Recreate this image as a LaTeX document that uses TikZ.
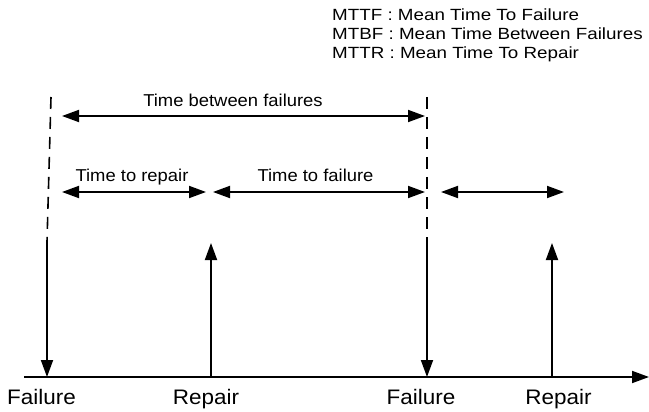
\documentclass[tikz,border=0pt]{standalone}
\usepackage{fontspec}
\setmainfont[FakeStretch=1.07]{Liberation Sans}
\newfontfamily\legendfont[FakeStretch=1.16]{Liberation Sans}
\usetikzlibrary{arrows.meta}
\begin{document}
\begin{tikzpicture}[x=1pt,y=-1pt,
  tip/.style={-{Triangle[length=17pt,width=12pt]}},
  span/.style={{Triangle[length=17pt,width=12pt]}-{Triangle[length=17pt,width=12pt]}, line width=1.8pt},
  event/.style={line width=1.8pt},
  guide/.style={line width=1.6pt, dash pattern=on 12pt off 8pt},
  evlabel/.style={anchor=base, inner sep=0pt, font=\fontsize{21}{25}\selectfont},
  spanlabel/.style={anchor=base, inner sep=0pt, font=\fontsize{17.2}{21}\selectfont},
  legend/.style={anchor=base west, inner sep=0pt, font=\legendfont\fontsize{16.2}{19}\selectfont}]
\useasboundingbox (0,0) rectangle (649,412);

% time axis
\coordinate (ax0) at (24,377);
\coordinate (ax1) at (649,377);
\draw[line width=1.8pt, -{Triangle[length=17pt,width=12pt]}] (ax0) -- (ax1);

% events on the axis
\coordinate (f1) at (47,377);
\coordinate (r1) at (211,377);
\coordinate (f2) at (427,377);
\coordinate (r2) at (552,377);

% failure markers: dashed guide above, downward arrow below
\coordinate (f1top) at (51,97);
\coordinate (f1mid) at (47,242);
\coordinate (f2top) at (427,97);
\coordinate (f2mid) at (427,242);
\draw[guide] (f1top) -- (f1mid);
\draw[guide] (f2top) -- (f2mid);
\draw[event, tip] (f1mid) -- (f1);
\draw[event, tip] (f2mid) -- (f2);

% repair markers: upward arrows
\coordinate (r1top) at (211,243);
\coordinate (r2top) at (552,243);
\draw[event, tip] (r1) -- (r1top);
\draw[event, tip] (r2) -- (r2top);

% interval spans
\coordinate (tbf0) at (62,116);
\coordinate (tbf1) at (425,116);
\coordinate (ttr0) at (62,192);
\coordinate (ttr1) at (206,192);
\coordinate (ttf0) at (213,192);
\coordinate (ttf1) at (425,192);
\coordinate (nx0) at (441,192);
\coordinate (nx1) at (564,192);
\draw[span] (tbf0) -- (tbf1);
\draw[span] (ttr0) -- (ttr1);
\draw[span] (ttf0) -- (ttf1);
\draw[span] (nx0) -- (nx1);

\node[spanlabel] (ltbf) at (233,107) {Time between failures};
\node[spanlabel] (lttr) at (132,182) {Time to repair};
\node[spanlabel] (lttf) at (315.5,181.5) {Time to failure};

% event labels
\node[evlabel] (lf1) at (41.5,404) {Failure};
\node[evlabel] (lr1) at (206,404) {Repair};
\node[evlabel] (lf2) at (421,404) {Failure};
\node[evlabel] (lr2) at (558.5,404) {Repair};

% legend
\node[legend] (mttf) at (332,21) {MTTF : Mean Time To Failure};
\node[legend] (mtbf) at (332,39.5) {MTBF : Mean Time Between Failures};
\node[legend] (mttr) at (332,58.3) {MTTR : Mean Time To Repair};
\end{tikzpicture}
\end{document}
